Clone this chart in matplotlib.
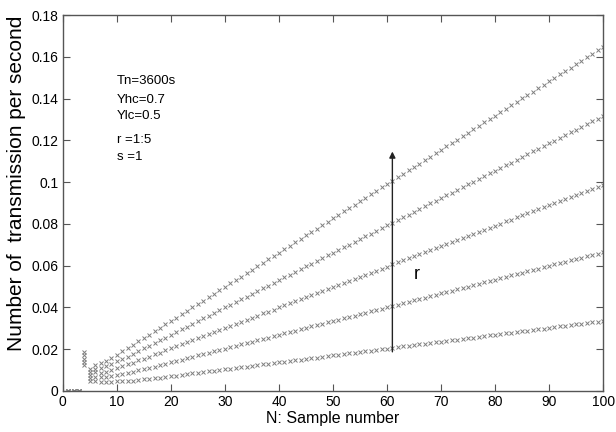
import numpy as np
import matplotlib
matplotlib.use('Agg')
import matplotlib.pyplot as plt
from matplotlib.ticker import FuncFormatter

plt.rcParams['font.family'] = ['Liberation Sans', 'DejaVu Sans']

N = list(range(1, 101))

# transmissions per second, in units of 1e-4
r1 = [0, 0, 0, 125, 46, 46, 45, 45, 45, 46,
      47, 48, 50, 52, 55, 58, 61, 64, 68, 71,
      74, 78, 81, 84, 88, 91, 94, 97, 101, 104,
      107, 111, 114, 117, 121, 124, 127, 130, 134, 137,
      140, 144, 147, 150, 154, 157, 160, 163, 167, 170,
      173, 177, 180, 183, 187, 190, 193, 196, 200, 203,
      206, 210, 213, 216, 220, 223, 226, 229, 233, 236,
      239, 243, 246, 249, 253, 256, 259, 262, 266, 269,
      272, 276, 279, 282, 286, 289, 292, 295, 299, 302,
      305, 309, 312, 315, 319, 322, 325, 328, 332, 335]
r2 = [0, 0, 0, 140, 62, 68, 66, 66, 70, 76,
      81, 86, 92, 98, 104, 111, 117, 124, 130, 137,
      144, 150, 157, 163, 170, 177, 183, 190, 196, 203,
      210, 216, 223, 229, 236, 243, 249, 256, 262, 269,
      276, 282, 289, 295, 302, 309, 315, 322, 328, 335,
      342, 348, 355, 361, 368, 375, 381, 388, 394, 401,
      408, 414, 421, 427, 434, 441, 447, 454, 460, 467,
      474, 480, 487, 493, 500, 507, 513, 520, 526, 533,
      540, 546, 553, 559, 566, 573, 579, 586, 592, 599,
      606, 612, 619, 625, 632, 639, 645, 652, 658, 665]
r3 = [0, 0, 0, 155, 76, 89, 86, 92, 100, 110,
      118, 127, 136, 146, 155, 165, 175, 184, 194, 204,
      214, 224, 233, 243, 253, 263, 273, 282, 292, 302,
      312, 322, 331, 341, 351, 361, 371, 380, 390, 400,
      410, 420, 429, 439, 449, 459, 469, 478, 488, 498,
      508, 518, 527, 537, 547, 557, 567, 576, 586, 596,
      606, 616, 625, 635, 645, 655, 665, 674, 684, 694,
      704, 714, 723, 733, 743, 753, 763, 772, 782, 792,
      802, 812, 821, 831, 841, 851, 861, 870, 880, 890,
      900, 910, 919, 929, 939, 949, 959, 968, 978, 988]
r4 = [0, 0, 0, 170, 90, 106, 110, 118, 130, 142,
      153, 165, 178, 190, 204, 217, 230, 243, 256, 269,
      282, 295, 308, 321, 335, 348, 361, 374, 387, 400,
      413, 426, 439, 452, 466, 479, 492, 505, 518, 531,
      544, 557, 570, 583, 597, 610, 623, 636, 649, 662,
      675, 688, 701, 714, 728, 741, 754, 767, 780, 793,
      806, 819, 832, 845, 859, 872, 885, 898, 911, 924,
      937, 950, 963, 976, 990, 1003, 1016, 1029, 1042, 1055,
      1068, 1081, 1094, 1107, 1121, 1134, 1147, 1160, 1173, 1186,
      1199, 1212, 1225, 1238, 1252, 1265, 1278, 1291, 1304, 1317]
r5 = [0, 0, 0, 185, 105, 124, 134, 145, 160, 174,
      189, 205, 220, 237, 253, 269, 286, 302, 319, 335,
      351, 368, 384, 401, 417, 433, 450, 466, 483, 499,
      515, 532, 548, 565, 581, 597, 614, 630, 647, 663,
      679, 696, 712, 729, 745, 761, 778, 794, 811, 827,
      843, 860, 876, 893, 909, 925, 942, 958, 975, 991,
      1007, 1024, 1040, 1057, 1073, 1089, 1106, 1122, 1139, 1155,
      1171, 1188, 1204, 1221, 1237, 1253, 1270, 1286, 1303, 1319,
      1335, 1352, 1368, 1385, 1401, 1417, 1434, 1450, 1467, 1483,
      1499, 1516, 1532, 1549, 1565, 1581, 1598, 1614, 1631, 1647]

params = ['Tn=3600s', 'Yhc=0.7', 'Ylc=0.5', 'r =1:5', 's =1']
params_y = [0.1483, 0.1394, 0.1319, 0.1200, 0.1120]

fig = plt.figure(figsize=(6.16, 4.32), dpi=100)
ax = fig.add_axes([0.102, 0.095, 0.877, 0.870])

for series in [r1, r2, r3, r4, r5]:
    ax.plot(N, np.array(series) * 1e-4, linestyle='none', marker='x',
            markersize=2.8, markeredgewidth=0.7, color='#7f7f7f')

ax.set_xlim(0, 100)
ax.set_ylim(0, 0.18)
ax.set_xticks(np.arange(0, 101, 10))
ax.set_yticks(np.arange(0, 0.181, 0.02))
ax.yaxis.set_major_formatter(FuncFormatter(lambda v, p: '%g' % round(v, 2)))
ax.tick_params(direction='in', top=True, right=True, length=5,
               labelsize=10, color='#555555', pad=3)
for s in ax.spines.values():
    s.set_color('#555555')
    s.set_linewidth(1.0)

ax.set_xlabel('N: Sample number', fontsize=11.5, labelpad=1)
ax.set_ylabel('Number of  transmission per second', fontsize=15)
ax.yaxis.set_label_coords(-0.068, 0.553)

for txt, yy in zip(params, params_y):
    ax.text(10, yy, txt, fontsize=9.5, va='center', ha='left')

ax.annotate('', xy=(61, 0.116), xytext=(61, 0.0174),
            arrowprops=dict(arrowstyle='-|>', color='#222222', lw=1.0,
                            mutation_scale=9))
ax.text(65.5, 0.0556, 'r', fontsize=13, va='center', ha='center')

fig.savefig('out.png', dpi=100)
